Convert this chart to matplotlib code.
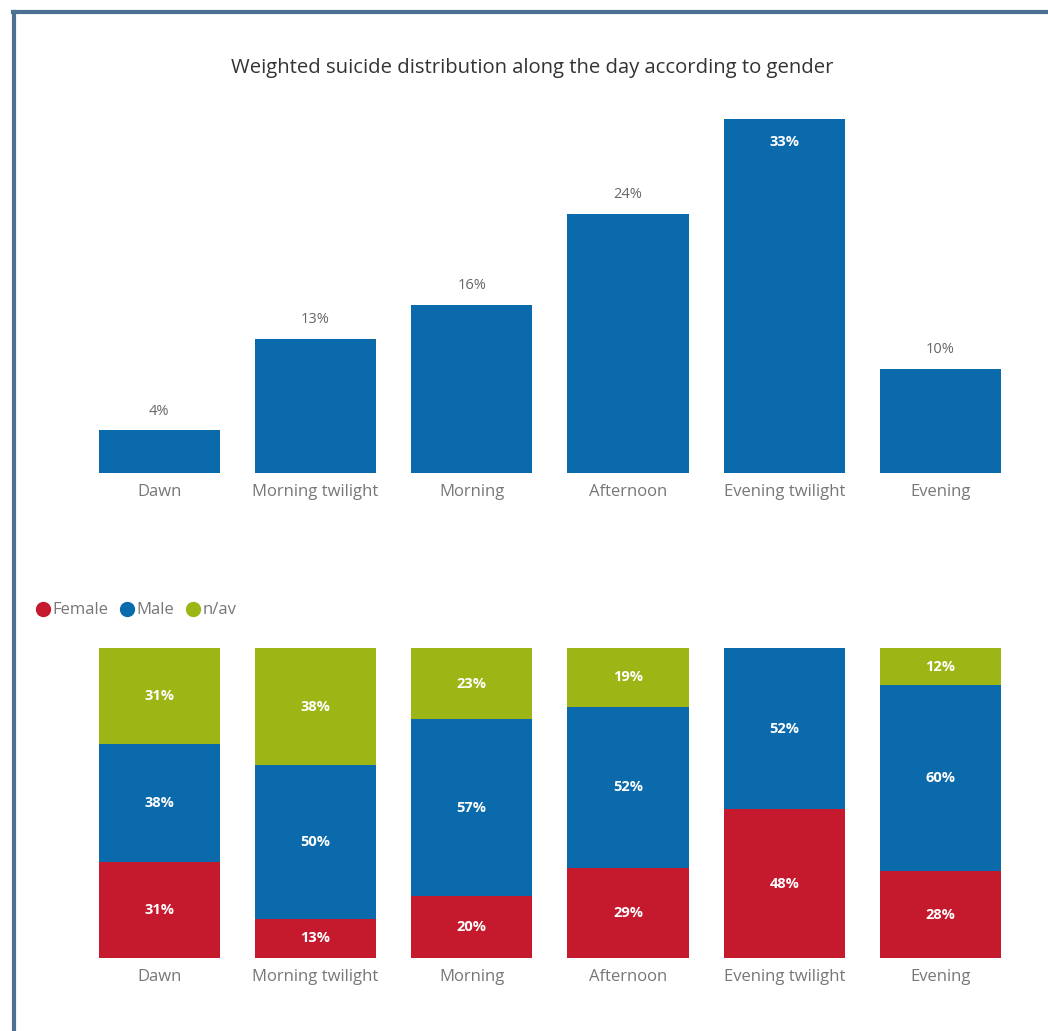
import numpy as np
import matplotlib.pyplot as plt
from matplotlib.lines import Line2D

# Data
periods = ["Dawn", "Morning twilight", "Morning", "Afternoon", "Evening twilight", "Evening"]
share = [4.0, 12.6, 15.8, 24.4, 33.3, 9.8]          # % of all cases per period
female = [31, 12.6, 20, 29, 48, 28]
male = [38, 49.6, 57, 52, 52, 60]
nav = [31, 37.8, 23, 19, 0, 12]

BLUE = "#0a6aab"
RED = "#c5192d"
GREEN = "#9db515"
GREY = "#666666"

plt.rcParams["font.family"] = ["Open Sans", "DejaVu Sans"]

fig = plt.figure(figsize=(10.48, 10.31), dpi=100)
x = np.arange(len(periods))
w = 0.776

# top chart: overall distribution
ax1 = fig.add_axes([0.0773, 0.5412, 0.8947, 0.3434])
bars = ax1.bar(x, share, width=w, color=BLUE)
ymax = max(share)
for b, v in zip(bars, share):
    if v >= ymax * 0.95:
        ax1.text(b.get_x() + w / 2, v - ymax * 0.065, f"{v:.0f}%", ha="center", va="center",
                 color="white", fontsize=10.5, fontweight="bold")
    else:
        ax1.text(b.get_x() + w / 2, v + ymax * 0.055, f"{v:.0f}%", ha="center", va="center",
                 color=GREY, fontsize=10.5)
ax1.set_ylim(0, ymax)
ax1.set_xlim(-0.5, len(periods) - 0.5)
fig.text(0.5076, 0.934, "Weighted suicide distribution along the day according to gender",
         ha="center", va="center", fontsize=14.6, color="#333333")

# bottom chart: 100% stacked by gender
ax2 = fig.add_axes([0.0773, 0.0708, 0.8947, 0.3007])
bottom = np.zeros(len(periods))
for vals, col in [(female, RED), (male, BLUE), (nav, GREEN)]:
    vals = np.array(vals, dtype=float)
    ax2.bar(x, vals, width=w, bottom=bottom, color=col)
    for xi, b0, v in zip(x, bottom, vals):
        if v > 0:
            ax2.text(xi, b0 + v / 2, f"{v:.0f}%", ha="center", va="center",
                     color="white", fontsize=10.5, fontweight="bold")
    bottom += vals
ax2.set_ylim(0, 100)
ax2.set_xlim(-0.5, len(periods) - 0.5)

for ax in (ax1, ax2):
    ax.set_xticks(x)
    ax.set_xticklabels(periods, fontsize=12, color="#777777")
    ax.tick_params(axis="x", length=0, pad=8)
    ax.set_yticks([])
    for s in ax.spines.values():
        s.set_visible(False)

handles = [Line2D([], [], marker="o", linestyle="", markersize=10, color=c)
           for c in (RED, BLUE, GREEN)]
fig.legend(handles, ["Female", "Male", "n/av"], loc="center left",
           bbox_to_anchor=(0.018, 0.408), ncol=3, frameon=False, fontsize=12,
           labelcolor="#777777", handletextpad=0.0, columnspacing=0.6, handlelength=1.1)

# report frame (top and left edges)
fig.add_artist(Line2D([0.012, 1.0], [0.9885, 0.9885], color="#4b7092", lw=3))
fig.add_artist(Line2D([0.0135, 0.0135], [0.0, 0.9885], color="#4b7092", lw=3))

fig.savefig("out.png", dpi=100, facecolor="white")
